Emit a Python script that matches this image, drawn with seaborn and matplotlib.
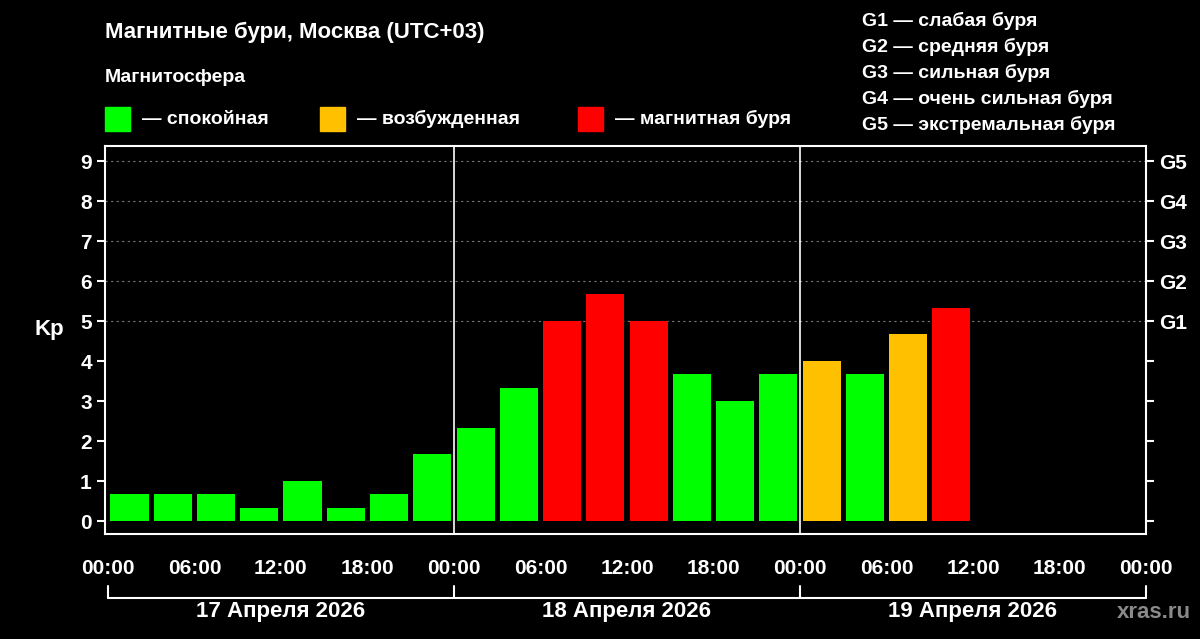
import matplotlib.pyplot as plt
import matplotlib.patches as mpatches
import numpy as np
import pandas as pd
import seaborn as sns

# Kp per 3-hour interval, 17-19 April 2026
kp_values = [0.67, 0.67, 0.67, 0.33, 1.0, 0.33, 0.67, 1.67,
             2.33, 3.33, 5.0, 5.67, 5.0, 3.67, 3.0, 3.67,
             4.0, 3.67, 4.67, 5.33]
hours = [i * 3 + 1.5 for i in range(len(kp_values))]
days = ["17 Апреля 2026", "18 Апреля 2026", "19 Апреля 2026"]
tick_labels = ["00:00", "06:00", "12:00", "18:00"] * 3 + ["00:00"]
storm_levels = ["G1", "G2", "G3", "G4", "G5"]
storm_names = ["G1 — слабая буря", "G2 — средняя буря", "G3 — сильная буря",
               "G4 — очень сильная буря", "G5 — экстремальная буря"]

GREEN, YELLOW, RED = "#00ff00", "#ffc000", "#ff0000"


def state(v):
    if v >= 5:
        return "storm"
    if v >= 4:
        return "active"
    return "quiet"


df = pd.DataFrame({"hour": hours, "kp": kp_values})
df["state"] = df["kp"].apply(state)

sns.set_style("dark")
plt.rcParams["font.family"] = ["Liberation Sans", "DejaVu Sans"]
plt.rcParams["font.weight"] = "bold"

fig = plt.figure(figsize=(12, 6.39), dpi=100, facecolor="black")
ax = fig.add_axes([0.0875, 0.164, 0.8675, 0.6075])
ax.set_facecolor("black")

sns.barplot(data=df, x="hour", y="kp", hue="state", native_scale=True, dodge=False,
            palette={"quiet": GREEN, "active": YELLOW, "storm": RED},
            width=0.88, legend=False, ax=ax, saturation=1, linewidth=0)

ax.set_xlim(-0.2, 72)
ax.set_ylim(-0.33, 9.38)
for s in ax.spines.values():
    s.set_color("white")
    s.set_linewidth(1.5)
ax.grid(False)
for y in range(5, 10):
    ax.axhline(y, color="#777777", lw=0.8, ls=(0, (2, 3)), zorder=0)
for x in (24, 48):
    ax.axvline(x, color="white", lw=1.2)

ax.set_xticks(np.arange(0, 73, 6))
ax.set_xticklabels(tick_labels)
ax.set_xticks(np.arange(3, 72, 6), minor=True)
ax.set_yticks(range(10))
ax.tick_params(axis="both", colors="white", labelsize=15, direction="out", width=1.5)
ax.tick_params(axis="x", which="major", length=12, pad=6)
ax.tick_params(axis="x", which="minor", length=6, color="white", width=1.5)
ax.tick_params(axis="y", length=6)
ax.set_xlabel("")
ax.set_ylabel("Kp", color="white", fontsize=16, rotation=0, labelpad=22, fontweight="bold")

axr = ax.twinx()
axr.set_ylim(ax.get_ylim())
axr.set_yticks(range(10))
axr.set_yticklabels([""] * 5 + storm_levels)
axr.tick_params(axis="y", colors="white", labelsize=15, length=6, width=1.5)
axr.grid(False)
for s in axr.spines.values():
    s.set_visible(False)

# day brackets under the time axis
tr = ax.get_xaxis_transform()
ax.plot([0, 72], [-0.165, -0.165], color="white", lw=1.5, transform=tr, clip_on=False)
for x in (0, 24, 48, 72):
    ax.plot([x, x], [-0.165, -0.133], color="white", lw=1.5, transform=tr, clip_on=False)
for i, d in enumerate(days):
    ax.text(i * 24 + 12, -0.2, d, transform=tr, ha="center", va="center",
            color="white", fontsize=16, fontweight="bold")

fig.text(0.9925, 0.042, "xras.ru", color="#8a8a8a", fontsize=16, ha="right",
         va="center", fontweight="bold")

# header
fig.text(0.0875, 1 - 32 / 639, "Магнитные бури, Москва (UTC+03)", color="white",
         fontsize=16, va="center", fontweight="bold")
fig.text(0.0875, 1 - 78 / 639, "Магнитосфера", color="white", fontsize=14,
         va="center", fontweight="bold")
for x0, col, lab in [(105, GREEN, "— спокойная"), (320, YELLOW, "— возбужденная"),
                     (578, RED, "— магнитная буря")]:
    fig.patches.append(mpatches.Rectangle((x0 / 1200, 1 - 131 / 639), 25 / 1200, 24 / 639,
                                          transform=fig.transFigure, color=col))
    fig.text((x0 + 37) / 1200, 1 - 119 / 639, lab, color="white", fontsize=14,
             va="center", fontweight="bold")
for i, name in enumerate(storm_names):
    fig.text(862 / 1200, 1 - (21 + i * 26) / 639, name, color="white", fontsize=14,
             va="center", fontweight="bold")

fig.savefig("out.png", dpi=100, facecolor="black")
